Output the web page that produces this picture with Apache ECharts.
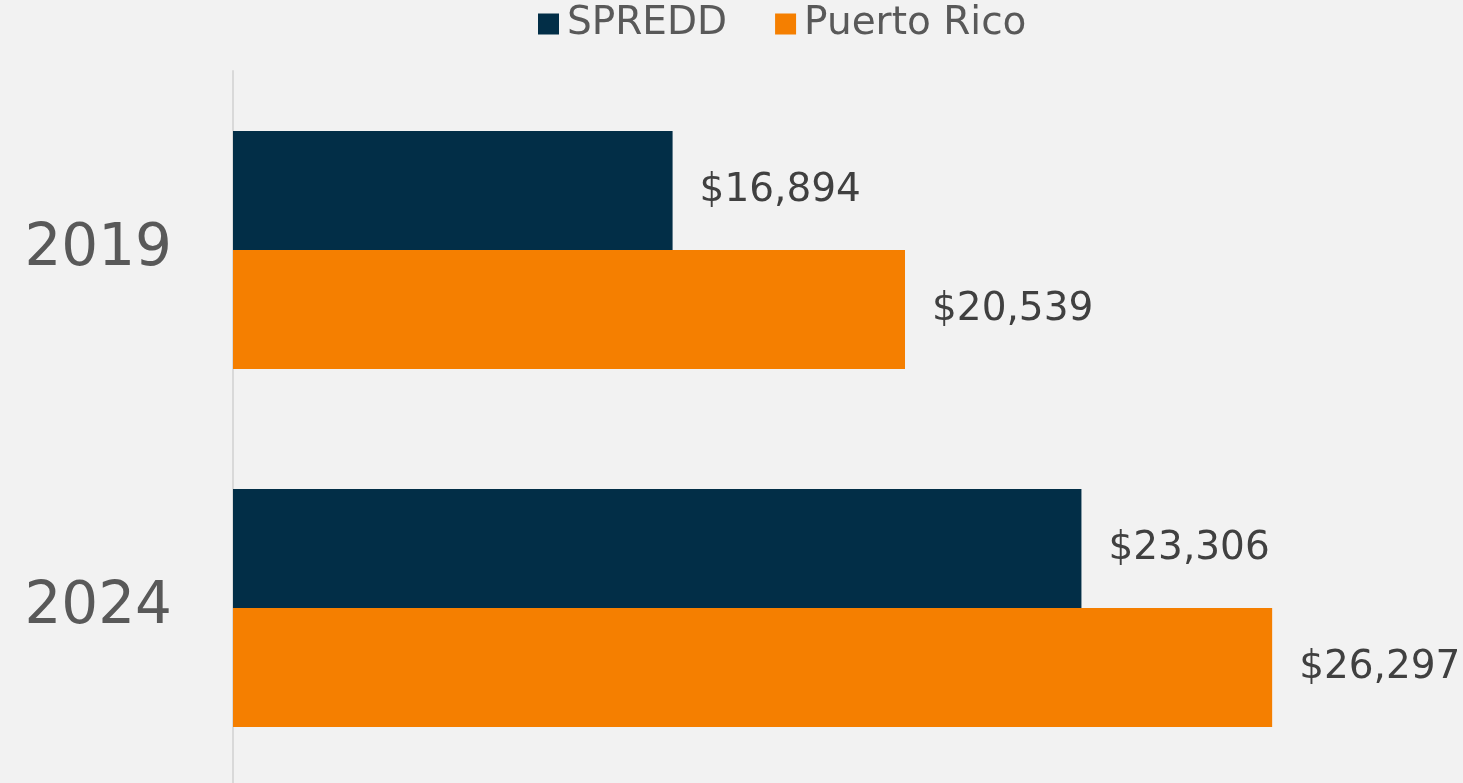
<!DOCTYPE html>
<html>
<head>
<meta charset="utf-8">
<script src="https://cdn.jsdelivr.net/npm/echarts@6/dist/echarts.min.js"></script>
<style>
html,body{margin:0;padding:0;background:#F2F2F2;overflow:hidden;width:1463px;height:783px;}
#main{width:1463px;height:787px;}
</style>
</head>
<body>
<div id="main"></div>
<script>
const categories = ['2019', '2024'];
const seriesNames = ['SPREDD', 'Puerto Rico'];
const spreddValues = [16894, 23306];
const puertoRicoValues = [20539, 26297];

const FONT = '"DejaVu Sans", sans-serif';
const chart = echarts.init(document.getElementById('main'));
const labelCfg = {
  show: true,
  position: 'right',
  distance: 27,
  color: '#404040',
  fontSize: 39,
  fontFamily: FONT,
  formatter: p => '$' + p.value.toLocaleString('en-US')
};
chart.setOption({
  backgroundColor: '#F2F2F2',
  animation: false,
  legend: {
    top: 3,
    left: 538,
    padding: 0,
    itemWidth: 21,
    itemHeight: 21,
    itemGap: 48,
    icon: 'rect',
    textStyle: { color: '#595959', fontSize: 39, fontFamily: FONT, padding: [2, 0, 0, 3], lineHeight: 40 },
    data: seriesNames
  },
  grid: { left: 233, right: 0, top: 71, bottom: 0, containLabel: false },
  xAxis: {
    type: 'value', min: 10000, max: 29290,
    show: false
  },
  yAxis: {
    type: 'category', data: categories, inverse: true,
    axisLine: { show: true, lineStyle: { color: '#D9D9D9', width: 2 } },
    axisTick: { show: false },
    axisLabel: { color: '#595959', fontSize: 58, fontFamily: FONT, margin: 61 }
  },
  series: [
    { name: seriesNames[0], type: 'bar', data: spreddValues, barWidth: 119, barGap: '0%',
      itemStyle: { color: '#022E47' }, label: labelCfg },
    { name: seriesNames[1], type: 'bar', data: puertoRicoValues, barWidth: 119, barGap: '0%',
      itemStyle: { color: '#F57F00' }, label: labelCfg }
  ]
});
</script>
</body>
</html>
